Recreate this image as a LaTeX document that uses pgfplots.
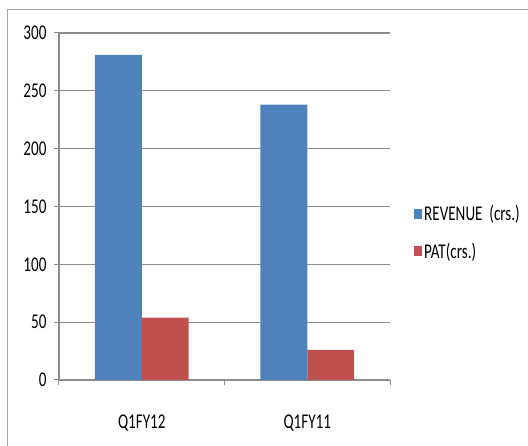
\documentclass[border=0pt]{standalone}
\usepackage{fontspec}
\setmainfont{Carlito}[FakeStretch=0.72]
\usepackage{pgfplots}
\pgfplotsset{compat=1.18}
\definecolor{rev}{HTML}{4F81BD}
\definecolor{pat}{HTML}{C0504D}
\definecolor{gridc}{HTML}{8C8C8C}
\definecolor{framec}{HTML}{A6A6A6}
\begin{document}
\begin{tikzpicture}
\useasboundingbox (0bp,0bp) rectangle (528bp,446bp);
\draw[framec, line width=1bp] (7bp,0bp) -- (7bp,436bp) -- (528bp,436bp);
\begin{axis}[
  at={(59bp,66bp)}, anchor=south west,
  scale only axis, width=331bp, height=347bp,
  ymin=0, ymax=300, ytick={0,50,...,300},
  xmin=0.5, xmax=2.5,
  xtick={0.5,1.5,2.5}, xticklabels={},
  extra x ticks={1,2}, extra x tick labels={Q1FY12,Q1FY11},
  extra x tick style={major tick length=0pt, grid=none},
  ymajorgrids, grid style={gridc, line width=1.2bp},
  axis x line*=bottom, axis y line*=left,
  axis line style={gridc, line width=1.2bp},
  tick style={gridc, line width=1bp},
  tick align=outside, major tick length=5bp,
  ybar=0pt, bar width=0.283,
  /pgf/number format/assume math mode=true,
  tick label style={font=\fontsize{21bp}{25bp}\selectfont, text=black},
  xticklabel style={yshift=-31bp},
  yticklabel style={xshift=-4bp},
  legend style={at={(1.0725,0.425)}, anchor=west, draw=none, fill=none,
    inner sep=0pt, row sep=17bp,
    font=\fontsize{21bp}{25bp}\selectfont,
    nodes={inner sep=2bp}},
  legend cell align=left,
  legend image code/.code={\fill[#1] (0bp,-5bp) rectangle (8bp,5bp);},
]
\addplot[fill=rev, draw=none] coordinates {(1,281) (2,238)};
\addplot[fill=pat, draw=none] coordinates {(1,54) (2,26)};
\legend{REVENUE\ \ (crs.), PAT(crs.)}
\end{axis}
\end{tikzpicture}
\end{document}
